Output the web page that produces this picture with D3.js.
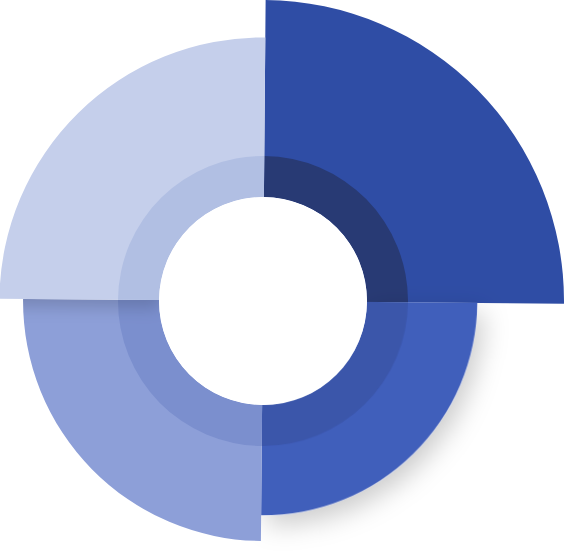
<!DOCTYPE html>
<html>
<head>
<meta charset="utf-8">
<script src="https://cdn.jsdelivr.net/npm/d3@7"></script>
<style>
  html, body { margin: 0; padding: 0; background: #ffffff; overflow: hidden; }
  svg { display: block; }
</style>
</head>
<body>
<svg id="chart" width="565" height="559"></svg>
<script>
// Data (rose chart: value -> outer radius), drawn clockwise from 12 o'clock
const categories = ["A", "B", "C", "D"];
const values = [100, 56, 69, 81];
const outerColors = ["#2f4da5", "#405ebb", "#8d9fd8", "#c5cfeb"];
const innerColors = ["#283a74", "#3a56aa", "#7b8fce", "#b1bfe3"];

const W = 565, H = 559;
const cx = 263, cy = 301;
const innerR = 104, ringR = 145, maxR = 301;

const svg = d3.select("#chart");
const defs = svg.append("defs");

// drop shadow for slice B
const f1 = defs.append("filter").attr("id", "shB")
  .attr("x", "-50%").attr("y", "-50%").attr("width", "200%").attr("height", "200%");
f1.append("feDropShadow").attr("dx", 6).attr("dy", 10)
  .attr("stdDeviation", 13).attr("flood-color", "#000").attr("flood-opacity", 0.2);

// shadow-only filter (used for D's shadow, clipped onto C)
const f2 = defs.append("filter").attr("id", "shOnly")
  .attr("x", "-50%").attr("y", "-50%").attr("width", "200%").attr("height", "200%");
f2.append("feOffset").attr("in", "SourceAlpha").attr("dx", 0).attr("dy", 8).attr("result", "o");
f2.append("feGaussianBlur").attr("in", "o").attr("stdDeviation", 8).attr("result", "b");
f2.append("feFlood").attr("flood-color", "#000").attr("flood-opacity", 0.16).attr("result", "c");
f2.append("feComposite").attr("in", "c").attr("in2", "b").attr("operator", "in");

const r = d3.scaleLinear().domain([0, d3.max(values)]).range([innerR, maxR]);

const pie = d3.pie().sort(null).value(() => 1);
const arcs = pie(values.map((v, i) => ({ v, i })));
const outerArc = (a, i) => d3.arc().innerRadius(innerR).outerRadius(r(values[i]))
  .startAngle(a.startAngle).endAngle(a.endAngle)();
const ringArc = (a) => d3.arc().innerRadius(innerR).outerRadius(ringR)
  .startAngle(a.startAngle).endAngle(a.endAngle)();

const g = svg.append("g").attr("transform", `translate(${cx},${cy}) rotate(0.5)`);

// clip path for slice C (index 2)
defs.append("clipPath").attr("id", "clipC")
  .append("path").attr("d", outerArc(arcs[2], 2))
  .attr("transform", `translate(${cx},${cy}) rotate(0.5)`);

arcs.forEach((a, i) => {
  const sg = g.append("g").attr("class", "slice");
  if (i === 1) sg.attr("filter", "url(#shB)");
  sg.append("path").attr("d", outerArc(a, i)).attr("fill", outerColors[i]);
  sg.append("path").attr("d", ringArc(a)).attr("fill", innerColors[i]);
  if (i === 2) {
    // shadow of D falling onto C
    svg.append("g").attr("clip-path", "url(#clipC)")
      .append("path").attr("d", outerArc(arcs[3], 3))
      .attr("transform", `translate(${cx},${cy}) rotate(0.5)`)
      .attr("fill", "#000").attr("filter", "url(#shOnly)");
  }
});

// keep D above the shadow layer
svg.node().appendChild(g.node().lastChild);
svg.selectAll("g.slice").filter((d, i, n) => n[i].parentNode === svg.node())
  .attr("transform", `translate(${cx},${cy}) rotate(0.5)`);

svg.append("circle").attr("cx", cx).attr("cy", cy).attr("r", innerR).attr("fill", "#ffffff");
</script>
</body>
</html>
